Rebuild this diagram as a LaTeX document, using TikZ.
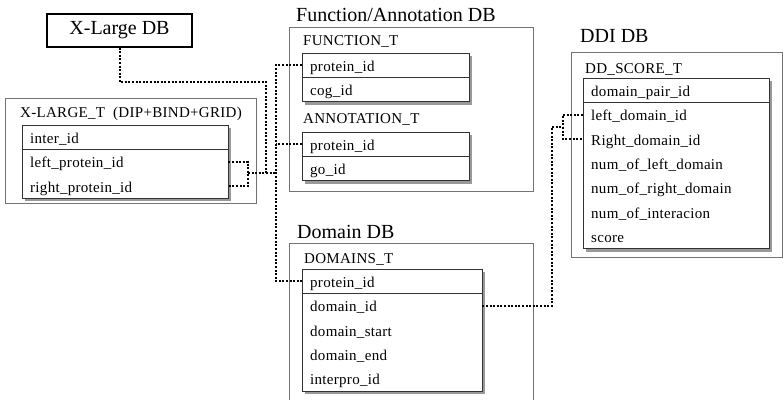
\documentclass[tikz,border=0pt]{standalone}
\usepackage{fontspec}
\setmainfont{Liberation Serif}
\usetikzlibrary{positioning,calc,backgrounds}
\newcommand{\rowfont}{\fontsize{15}{18}\selectfont\addfontfeature{LetterSpace=2}}
\newcommand{\dbfont}{\fontsize{20}{23}\selectfont}
\tikzset{
  dbbox/.style={ draw=black!55, line width=0.8pt }
}
\tikzset{
  rowcell/.style={ anchor=north west, inner xsep=8pt, inner ysep=0pt, minimum height=24pt, text height=13pt, text depth=1pt, font=\rowfont, align=left }
}
\tikzset{
  dbtitle/.style={ anchor=base west, inner sep=0pt, font=\dbfont }
}
\tikzset{
  tbltitle/.style={ anchor=base west, inner sep=0pt, font=\rowfont }
}
\tikzset{
  link/.style={ dash pattern=on 2pt off 1.6pt, line width=2pt }
}
% shadow, frame and key line of one table
\newcommand{\tblframe}[2]{%
  \fill[black!40] ($(#1.north west)+(3,3)$) rectangle ($(#2.south east)+(3,3)$);
  \draw[black!80, line width=0.8pt, fill=white] (#1.north west) rectangle (#2.south east);
  \draw[black!80, line width=0.8pt] (#1.south west) -- (#1.south east);
}

\begin{document}
\begin{tikzpicture}[x=1pt, y=-1pt]
  \useasboundingbox (0,0) rectangle (783,400);

  % database boxes
  \draw[dbbox] (5,98) rectangle (256,203);
  \draw[dbbox] (289,27) rectangle (533,191);
  \draw[dbbox] (571,52) rectangle (782,257);
  \draw[dbbox] (289,400) -- (289,243) -- (533,243) -- (533,400);

  \node[draw, line width=1.2pt, minimum width=145pt, minimum height=33pt, font=\dbfont] (xldb) at (119.5,30.5) {X-Large DB};
  \node[dbtitle] (fadb) at (296,21) {Function/Annotation DB};
  \node[dbtitle] (ddidb) at (580,42) {DDI DB};
  \node[dbtitle] (domdb) at (297,238) {Domain DB};

  % X-LARGE_T
  \node[tbltitle] (xlt) at (20,117) {X-LARGE\_T\ \ (DIP+BIND+GRID)};
  \node[rowcell, text width=190pt] (xiid) at (22,125) {inter\_id};
  \node[rowcell, text width=190pt, below=0pt of xiid] (xlp) {left\_protein\_id};
  \node[rowcell, text width=190pt, below=0pt of xlp] (xrp) {right\_protein\_id};

  % FUNCTION_T and ANNOTATION_T
  \node[tbltitle] (ft) at (303,45) {FUNCTION\_T};
  \node[rowcell, text width=151pt] (fpid) at (302,53) {protein\_id};
  \node[rowcell, text width=151pt, below=0pt of fpid] (fcog) {cog\_id};
  \node[tbltitle] (at) at (303,123) {ANNOTATION\_T};
  \node[rowcell, text width=151pt] (apid) at (302,132) {protein\_id};
  \node[rowcell, text width=151pt, below=0pt of apid] (ago) {go\_id};

  % DD_SCORE_T
  \node[tbltitle] (dst) at (585,73) {DD\_SCORE\_T};
  \node[rowcell, text width=170pt] (dpair) at (583,78) {domain\_pair\_id};
  \node[rowcell, text width=170pt, below=0pt of dpair] (dleft) {left\_domain\_id};
  \node[rowcell, text width=170pt, below=0pt of dleft] (dright) {Right\_domain\_id};
  \node[rowcell, text width=170pt, below=0pt of dright] (dnl) {num\_of\_left\_domain};
  \node[rowcell, text width=170pt, below=0pt of dnl] (dnr) {num\_of\_right\_domain};
  \node[rowcell, text width=170pt, below=0pt of dnr] (dni) {num\_of\_interacion};
  \node[rowcell, text width=170pt, below=0pt of dni] (dsc) {score};

  % DOMAINS_T
  \node[tbltitle] (dmt) at (304,263) {DOMAINS\_T};
  \node[rowcell, text width=164pt] (mpid) at (302,269) {protein\_id};
  \node[rowcell, text width=164pt, below=0pt of mpid] (mdid) {domain\_id};
  \node[rowcell, text width=164pt, below=0pt of mdid] (mst) {domain\_start};
  \node[rowcell, text width=164pt, below=0pt of mst] (mend) {domain\_end};
  \node[rowcell, text width=164pt, below=0pt of mend] (mipr) {interpro\_id};

  \begin{scope}[on background layer]
    \tblframe{xiid}{xrp}
    \tblframe{fpid}{fcog}
    \tblframe{apid}{ago}
    \tblframe{dpair}{dsc}
    \tblframe{mpid}{mipr}
  \end{scope}

  % links
  \coordinate (xbrk) at (248,173);
  \coordinate (xturn) at (266,82);
  \coordinate (trk) at (276,173);
  \draw[link] (xlp.east) -| (xbrk) |- (xrp.east);
  \draw[link] (xbrk) -- (trk);
  \draw[link] (xldb.south) |- (xturn) -- (xturn |- xbrk);
  \draw[link] (fpid.west) -| (trk) |- (mpid.west);
  \draw[link] (apid.west) -- (apid.west -| trk);

  \coordinate (dbrk) at (563,127);
  \coordinate (dturn) at (552,127);
  \draw[link] (dleft.west) -| (dbrk) |- (dright.west);
  \draw[link] (mdid.east) -| (dturn) -- (dbrk);
\end{tikzpicture}
\end{document}
